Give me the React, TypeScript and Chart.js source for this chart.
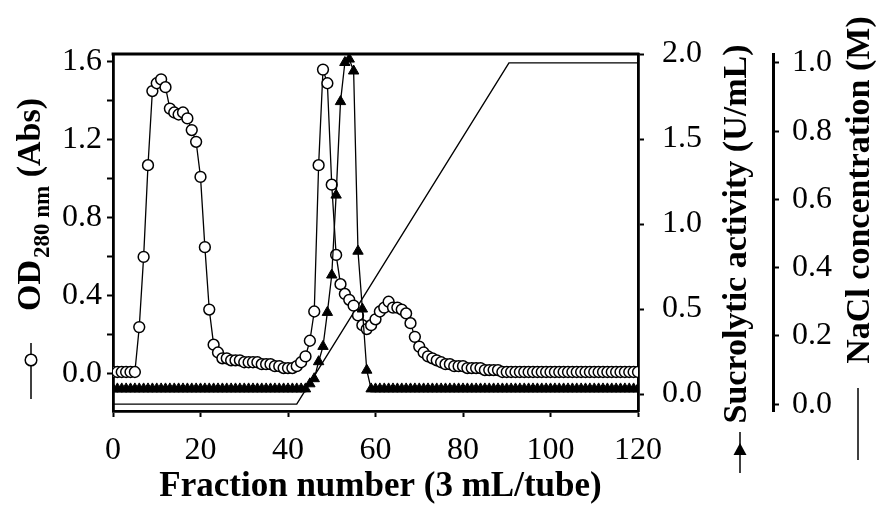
import React, { useEffect, useRef } from 'react';
import { Chart, registerables } from 'chart.js';

Chart.register(...registerables);

// ---- data ----
const OD_280: number[] = [
  0.01, 0.01, 0.01, 0.01, 0.01, 0.01, 0.24, 0.60, 1.07, 1.45,
  1.49, 1.51, 1.47, 1.36, 1.34, 1.33, 1.34, 1.31, 1.25, 1.19,
  1.01, 0.65, 0.33, 0.15, 0.11, 0.08, 0.08, 0.07, 0.07, 0.07,
  0.06, 0.06, 0.06, 0.06, 0.05, 0.05, 0.05, 0.04, 0.04, 0.03,
  0.03, 0.03, 0.04, 0.06, 0.09, 0.17, 0.32, 1.07, 1.56, 1.49,
  0.97, 0.61, 0.46, 0.41, 0.38, 0.35, 0.30, 0.25, 0.23, 0.25,
  0.28, 0.32, 0.34, 0.37, 0.34, 0.34, 0.33, 0.31, 0.26, 0.19,
  0.14, 0.11, 0.09, 0.08, 0.07, 0.06, 0.05, 0.05, 0.04, 0.04,
  0.04, 0.03, 0.03, 0.03, 0.03, 0.02, 0.02, 0.02, 0.02, 0.01,
  0.01, 0.01, 0.01, 0.01, 0.01, 0.01, 0.01, 0.01, 0.01, 0.01,
  0.01, 0.01, 0.01, 0.01, 0.01, 0.01, 0.01, 0.01, 0.01, 0.01,
  0.01, 0.01, 0.01, 0.01, 0.01, 0.01, 0.01, 0.01, 0.01, 0.01,
  0.01,
];

const ACTIVITY: number[] = [
  0.03, 0.03, 0.03, 0.03, 0.03, 0.03, 0.03, 0.03, 0.03, 0.03,
  0.03, 0.03, 0.03, 0.03, 0.03, 0.03, 0.03, 0.03, 0.03, 0.03,
  0.03, 0.03, 0.03, 0.03, 0.03, 0.03, 0.03, 0.03, 0.03, 0.03,
  0.03, 0.03, 0.03, 0.03, 0.03, 0.03, 0.03, 0.03, 0.03, 0.03,
  0.03, 0.03, 0.03, 0.03, 0.03, 0.06, 0.09, 0.19, 0.28, 0.48,
  0.70, 1.17, 1.72, 1.95, 1.97, 1.90, 0.84, 0.50, 0.14, 0.03,
  0.03, 0.03, 0.03, 0.03, 0.03, 0.03, 0.03, 0.03, 0.03, 0.03,
  0.03, 0.03, 0.03, 0.03, 0.03, 0.03, 0.03, 0.03, 0.03, 0.03,
  0.03, 0.03, 0.03, 0.03, 0.03, 0.03, 0.03, 0.03, 0.03, 0.03,
  0.03, 0.03, 0.03, 0.03, 0.03, 0.03, 0.03, 0.03, 0.03, 0.03,
  0.03, 0.03, 0.03, 0.03, 0.03, 0.03, 0.03, 0.03, 0.03, 0.03,
  0.03, 0.03, 0.03, 0.03, 0.03, 0.03, 0.03, 0.03, 0.03, 0.03,
  0.03,
];

const NACL_FRACTION: number[] = [0, 42, 90.5, 120];
const NACL_M: number[] = [0, 0, 1.0, 1.0];

const X_TICKS: number[] = [0, 20, 40, 60, 80, 100, 120];
const OD_TICKS: number[] = [0, 0.2, 0.4, 0.6, 0.8, 1.0, 1.2, 1.4, 1.6];
const OD_LABELED: number[] = [0, 0.4, 0.8, 1.2, 1.6];
const ACT_TICKS: number[] = [0, 0.5, 1.0, 1.5, 2.0];
const NACL_TICKS: number[] = [0, 0.2, 0.4, 0.6, 0.8, 1.0];

const X_TITLE = 'Fraction number (3 mL/tube)';
const OD_TITLE_MAIN = 'OD';
const OD_TITLE_SUB = '280 nm';
const OD_TITLE_END = ' (Abs)';
const ACT_TITLE = 'Sucrolytic activity (U/mL)';
const NACL_TITLE = 'NaCl concentration (M)';

// ---- style ----
const SERIF = '"Liberation Serif", "Times New Roman", serif';
const TICK_FONT = { family: SERIF, size: 32 };
const TITLE_SIZE = 34;
const X_TITLE_SIZE = 35;
const SUB_SIZE = 23;
const FRAME_W = 2.8;

const titlePlugin = {
  id: 'customTitles',
  afterDraw(chart: any) {
    const ctx: CanvasRenderingContext2D = chart.ctx;
    const a = chart.chartArea;
    ctx.save();
    ctx.strokeStyle = '#000';
    ctx.fillStyle = '#000';
    // top frame line
    ctx.lineWidth = FRAME_W;
    ctx.beginPath();
    ctx.moveTo(a.left - FRAME_W / 2, a.top);
    ctx.lineTo(a.right + FRAME_W / 2, a.top);
    ctx.stroke();

    // x title
    ctx.font = `bold ${X_TITLE_SIZE}px ${SERIF}`;
    ctx.textAlign = 'center';
    ctx.textBaseline = 'alphabetic';
    ctx.fillText(X_TITLE, (a.left + a.right) / 2 + 5, 496);

    // left title (rotated) with subscript
    ctx.save();
    ctx.translate(31, 311);
    ctx.rotate(-Math.PI / 2);
    ctx.textAlign = 'left';
    ctx.textBaseline = 'middle';
    ctx.font = `bold ${TITLE_SIZE}px ${SERIF}`;
    ctx.fillText(OD_TITLE_MAIN, 0, 0);
    let w = ctx.measureText(OD_TITLE_MAIN).width + 2;
    ctx.font = `bold ${SUB_SIZE}px ${SERIF}`;
    ctx.fillText(OD_TITLE_SUB, w, 12);
    w += ctx.measureText(OD_TITLE_SUB).width;
    ctx.font = `bold ${TITLE_SIZE}px ${SERIF}`;
    ctx.fillText(OD_TITLE_END, w, 0);
    ctx.restore();

    // left legend symbol: line with open circle
    ctx.lineWidth = 1.5;
    ctx.beginPath();
    ctx.moveTo(31, 343);
    ctx.lineTo(31, 399);
    ctx.stroke();
    ctx.beginPath();
    ctx.arc(31, 360, 5.8, 0, Math.PI * 2);
    ctx.fillStyle = '#fff';
    ctx.fill();
    ctx.stroke();
    ctx.fillStyle = '#000';

    // activity title
    ctx.save();
    ctx.translate(737, 234);
    ctx.rotate(-Math.PI / 2);
    ctx.textAlign = 'center';
    ctx.textBaseline = 'middle';
    ctx.font = `bold ${TITLE_SIZE}px ${SERIF}`;
    ctx.fillText(ACT_TITLE, 0, 0);
    ctx.restore();
    // activity symbol: line with filled triangle
    ctx.beginPath();
    ctx.moveTo(740, 432);
    ctx.lineTo(740, 473);
    ctx.stroke();
    ctx.beginPath();
    ctx.moveTo(740, 443);
    ctx.lineTo(746.5, 455);
    ctx.lineTo(733.5, 455);
    ctx.closePath();
    ctx.fill();

    // NaCl title
    ctx.save();
    ctx.translate(860, 190);
    ctx.rotate(-Math.PI / 2);
    ctx.textAlign = 'center';
    ctx.textBaseline = 'middle';
    ctx.font = `bold ${TITLE_SIZE}px ${SERIF}`;
    ctx.fillText(NACL_TITLE, 0, 0);
    ctx.restore();
    ctx.beginPath();
    ctx.moveTo(858, 388);
    ctx.lineTo(858, 460);
    ctx.stroke();

    ctx.restore();
  },
};

function tickFromList(list: number[]) {
  return (scale: any) => {
    scale.ticks = list.map((v) => ({ value: v }));
  };
}

const axisCommon = (tickPadding: number, borderW: number) => ({
  type: 'linear' as const,
  grid: {
    display: true,
    drawOnChartArea: false,
    drawTicks: true,
    tickLength: 6,
    tickWidth: 2,
    tickColor: '#000',
  },
  border: { display: true, color: '#000', width: borderW },
  ticks: {
    font: TICK_FONT,
    color: '#000',
    padding: tickPadding,
    autoSkip: false,
    maxRotation: 0,
  },
  title: { display: false },
});

export default function App() {
  const canvasRef = useRef<HTMLCanvasElement | null>(null);

  useEffect(() => {
    if (!canvasRef.current) return;
    const odData = OD_280.map((v, i) => ({ x: i, y: v }));
    const actData = ACTIVITY.map((v, i) => ({ x: i, y: v }));
    const naclData = NACL_FRACTION.map((f, i) => ({ x: f, y: NACL_M[i] }));

    const chart = new Chart(canvasRef.current, {
      type: 'line',
      data: {
        datasets: [
          {
            label: 'Sucrolytic activity',
            data: actData,
            yAxisID: 'yAct',
            borderColor: '#000',
            borderWidth: 1.3,
            pointStyle: 'triangle',
            pointRadius: 6,
            pointBackgroundColor: '#000',
            pointBorderColor: '#000',
            pointBorderWidth: 1,
            tension: 0,
            fill: false,
          },
          {
            label: 'OD280',
            data: odData,
            yAxisID: 'yOD',
            borderColor: '#000',
            borderWidth: 1.3,
            pointStyle: 'circle',
            pointRadius: 5.4,
            pointBackgroundColor: '#fff',
            pointBorderColor: '#000',
            pointBorderWidth: 1.5,
            tension: 0,
            fill: false,
          },
          {
            label: 'NaCl',
            data: naclData,
            yAxisID: 'yNaCl',
            borderColor: '#000',
            borderWidth: 1.4,
            pointRadius: 0,
            tension: 0,
            fill: false,
          },
        ],
      },
      options: {
        animation: false,
        responsive: false,
        devicePixelRatio: 1,
        layout: { padding: { top: 54, left: 0, right: 0, bottom: 0 } },
        plugins: {
          legend: { display: false },
          tooltip: { enabled: false },
        },
        scales: {
          x: {
            ...axisCommon(14, FRAME_W),
            position: 'bottom',
            min: 0,
            max: 120,
            afterBuildTicks: tickFromList(X_TICKS),
            afterFit: (s: any) => {
              s.height = 94;
            },
            ticks: {
              ...axisCommon(14, FRAME_W).ticks,
              callback: (v: any) => String(v),
            },
          },
          yOD: {
            ...axisCommon(5, FRAME_W),
            position: 'left',
            min: -0.19,
            max: 1.64,
            afterBuildTicks: tickFromList(OD_TICKS),
            afterFit: (s: any) => {
              s.width = 113;
            },
            ticks: {
              ...axisCommon(5, FRAME_W).ticks,
              callback: (v: any) =>
                OD_LABELED.some((l) => Math.abs(l - Number(v)) < 1e-6) ? Number(v).toFixed(1) : '',
            },
          },
          yAct: {
            ...axisCommon(18, FRAME_W),
            position: 'right',
            min: -0.1,
            max: 2.0,
            afterBuildTicks: tickFromList(ACT_TICKS),
            afterFit: (s: any) => {
              s.width = 135;
            },
            ticks: {
              ...axisCommon(18, FRAME_W).ticks,
              callback: (v: any) => Number(v).toFixed(1),
            },
          },
          yNaCl: {
            ...axisCommon(13, 3),
            position: 'right',
            min: -0.02,
            max: 1.026,
            afterBuildTicks: tickFromList(NACL_TICKS),
            afterFit: (s: any) => {
              s.width = 103;
            },
            ticks: {
              ...axisCommon(13, 3).ticks,
              callback: (v: any) => Number(v).toFixed(1),
            },
          },
        },
      },
      plugins: [titlePlugin],
    } as any);

    return () => {
      chart.destroy();
    };
  }, []);

  return (
    <div
      style={{
        position: 'fixed',
        left: 0,
        top: 0,
        width: 876,
        height: 505,
        background: '#fff',
      }}
    >
      <canvas ref={canvasRef} width={876} height={505} style={{ width: 876, height: 505 }} />
    </div>
  );
}
